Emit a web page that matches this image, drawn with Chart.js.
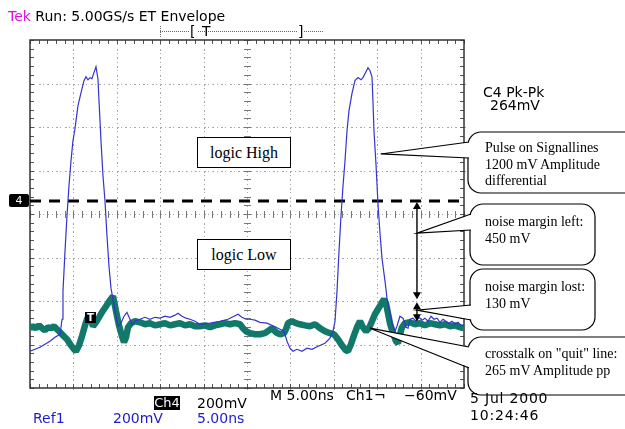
<!DOCTYPE html>
<html><head><meta charset="utf-8">
<script src="https://cdn.jsdelivr.net/npm/chart.js@4"></script>
<style>
html,body{margin:0;padding:0;background:#fff;}
#wrap{position:relative;width:625px;height:429px;overflow:hidden;background:#fff;}
#c{position:absolute;left:0;top:0;}
.t{position:absolute;white-space:nowrap;font-family:"DejaVu Sans",sans-serif;font-size:14px;line-height:14px;color:#000;}
.b{color:#1c1ccc;}
.s{position:absolute;white-space:nowrap;font-family:"Liberation Serif","Times New Roman",serif;font-size:14px;line-height:16.5px;color:#000;}
.box{position:absolute;border:1.5px solid #000;background:#fff;box-sizing:border-box;font-family:"Liberation Serif","Times New Roman",serif;font-size:16px;display:flex;align-items:center;justify-content:center;white-space:nowrap;}
.inv{position:absolute;background:#000;color:#fff;font-family:"DejaVu Sans",sans-serif;font-size:13px;line-height:14px;text-align:center;}
</style></head>
<body><div id="wrap"><canvas id="c" width="625" height="429"></canvas>
<div class="t" style="left:8px;top:9px;"><span style="color:#e010e0">Tek</span> Run: 5.00GS/s ET Envelope</div>
<div class="t" style="left:190px;top:24px;">[</div>
<div class="t" style="left:202px;top:24px;">T</div>
<div class="t" style="left:298px;top:24px;">]</div>
<div class="t" style="left:483px;top:85px;">C4 Pk-Pk</div>
<div class="t" style="left:490px;top:98px;">264mV</div>
<div class="box" style="left:197px;top:137px;width:94px;height:31px;">logic High</div>
<div class="box" style="left:197px;top:239px;width:94px;height:31px;">logic Low</div>
<div class="s" style="left:485px;top:140px;">Pulse on Signallines<br>1200 mV Amplitude<br>differential</div>
<div class="s" style="left:485px;top:214px;">noise margin left:<br>450 mV</div>
<div class="s" style="left:485px;top:279px;">noise margin lost:<br>130 mV</div>
<div class="s" style="left:485px;top:346px;">crosstalk on "quit" line:<br>265 mV Amplitude pp</div>
<div class="inv" style="left:9px;top:194px;width:20px;height:13px;border-radius:2px;font-size:11px;line-height:13px;">4</div>
<div class="inv" style="left:85px;top:312px;width:11px;height:11px;font-size:10px;line-height:11px;font-weight:bold;">T</div>
<div class="t" style="left:270px;top:388px;">M 5.00ns</div>
<div class="t" style="left:346px;top:388px;">Ch1</div>
<div class="t" style="left:374px;top:388px;">¬</div>
<div class="t" style="left:404px;top:388px;">−60mV</div>
<div class="t" style="left:470px;top:391px;letter-spacing:0.8px;">5 Jul 2000</div>
<div class="t" style="left:470px;top:408px;letter-spacing:0.8px;">10:24:46</div>
<div class="inv" style="left:154px;top:396px;width:26px;height:14px;">Ch4</div>
<div class="t" style="left:197px;top:396px;">200mV</div>
<div class="t b" style="left:33px;top:411px;">Ref1</div>
<div class="t b" style="left:113px;top:411px;">200mV</div>
<div class="t b" style="left:197px;top:411px;">5.00ns</div>
</div>
<script>
// time base: 5 ns/div, 10 divisions; vertical: 200 mV/div, 8 divisions
const xTicksNs = [0,5,10,15,20,25,30,35,40,45,50];
const yTicksMv = [-800,-600,-400,-200,0,200,400,600,800];
const thresholdMv = 60;

// Ref1: pulse on signal lines (blue)
const ref1Time = [0,0.58,1.15,1.73,2.3,2.88,3.46,3.69,3.8,4.03,4.26,4.49,4.72,4.95,5.18,5.53,5.88,6.22,6.45,6.68,6.91,7.14,7.37,7.6,7.83,7.95,8.18,8.41,8.64,8.87,9.1,9.33,9.56,9.91,10.14,10.48,10.83,11.17,11.52,11.75,12.1,12.67,13.25,13.82,14.4,14.98,15.55,16.13,16.7,17.05,17.51,17.97,18.43,19.01,19.58,20.74,21.89,22.81,23.5,23.96,24.42,24.88,25.34,25.92,26.5,27.3,28.11,28.8,29.26,29.61,29.95,30.3,30.76,31.33,31.91,32.49,33.18,33.98,34.56,34.91,35.14,35.37,35.6,35.83,36.06,36.29,36.52,36.75,37.09,37.44,37.79,38.13,38.36,38.59,38.94,39.17,39.4,39.51,39.63,39.86,40.09,40.32,40.55,40.9,41.13,41.47,41.7,42.05,42.28,42.62,42.97,43.32,43.55,43.78,44.12,44.47,44.81,45.16,45.5,45.85,46.2,46.54,46.89,47.23,47.58,47.92,48.27,48.61,48.96,49.31,49.65,50];
const ref1Mv = [-631,-622,-613,-599,-585,-567,-553,-484,-355,-173,-9,129,244,336,392,498,558,613,631,617,627,622,650,677,622,521,336,175,60,-101,-240,-341,-392,-470,-516,-502,-470,-452,-484,-512,-493,-484,-475,-484,-475,-479,-470,-475,-465,-456,-470,-479,-484,-493,-507,-502,-493,-484,-470,-461,-475,-484,-484,-488,-498,-502,-516,-530,-539,-585,-617,-631,-622,-631,-617,-622,-608,-594,-571,-539,-493,-355,-171,-9,129,244,382,475,553,613,627,617,627,645,673,659,631,521,382,230,46,-87,-203,-309,-387,-456,-502,-539,-516,-470,-479,-521,-525,-484,-479,-493,-475,-488,-479,-493,-470,-484,-479,-498,-484,-493,-502,-493,-507,-498,-512,-512];

// Ch4: crosstalk on "quiet" line (teal)
const ch4Time = [0,0.35,0.69,1.04,1.38,1.73,2.07,2.42,2.76,3.11,3.46,3.8,4.26,4.72,5.07,5.3,5.65,5.99,6.34,6.57,6.8,7.03,7.26,7.6,7.95,8.29,8.76,9.22,9.56,9.91,10.25,10.6,10.83,11.06,11.29,11.64,12.1,12.67,13.25,13.82,14.4,14.98,15.55,16.13,16.7,17.28,17.86,18.43,19.01,19.58,20.16,20.74,21.31,21.89,22.46,23.04,23.62,24.19,24.54,24.88,25.34,25.92,26.5,27.07,27.53,27.88,28.34,28.8,29.26,29.49,29.72,30.18,30.64,31.1,31.68,32.26,32.83,33.41,33.98,34.56,35.02,35.48,35.94,36.4,36.63,36.98,37.32,37.67,38.02,38.36,38.71,39.05,39.4,39.74,40.09,40.44,40.78,41.01,41.24,41.47,41.82,42.16,42.39,42.62,42.85,43.2,43.78,44.35,44.93,45.5,46.08,46.66,47.23,47.81,48.38,48.96,49.54,50];
const ch4Mv = [-525,-516,-525,-512,-525,-535,-521,-525,-516,-530,-544,-558,-576,-604,-622,-631,-604,-562,-512,-484,-465,-484,-516,-498,-475,-452,-424,-396,-378,-447,-512,-562,-590,-567,-521,-502,-493,-498,-507,-502,-512,-507,-502,-512,-507,-502,-512,-507,-516,-516,-512,-521,-512,-507,-502,-507,-502,-507,-525,-539,-548,-553,-553,-548,-535,-525,-544,-553,-548,-530,-502,-493,-502,-507,-512,-516,-507,-525,-539,-548,-553,-576,-604,-627,-631,-599,-558,-521,-493,-521,-539,-525,-493,-461,-438,-415,-392,-410,-456,-502,-548,-585,-594,-553,-521,-502,-498,-507,-502,-512,-502,-507,-512,-507,-516,-512,-521,-525];

// annotations anchored in data units
const marginX = 44.58;
const arrows = [[55,-392],[-406,-493]];
const calloutApex = [[40.4,276],[44.58,-88],[44.58,-442],[39.17,-525]];

const pts = (t,v)=>t.map((x,i)=>({x, y:v[i]}));

const gridPlugin = {
  id:'scopeGrid',
  beforeDatasetsDraw(chart){
    const {ctx, chartArea:a, scales:{x,y}} = chart;
    ctx.save();
    const dX=(a.right-a.left)/10/5, dY=(a.bottom-a.top)/8/5;
    ctx.fillStyle='#a8a8a8';
    xTicksNs.forEach((v,i)=>{
      if(i===0||i===xTicksNs.length-1) return;
      const px=Math.round(x.getPixelForValue(v));
      for(let k=0;k<=80;k++){const py=Math.round(a.top+k*dY/2); ctx.fillRect(px,py,1,(k%2===0)?2:1);}
    });
    yTicksMv.forEach((v,i)=>{
      if(i===0||i===yTicksMv.length-1) return;
      const py=Math.round(y.getPixelForValue(v));
      for(let k=0;k<=100;k++){const px=Math.round(a.left+k*dX/2); ctx.fillRect(px,py,(k%2===0)?2:1,1);}
    });
    ctx.fillStyle='#777';
    const cx=Math.round(x.getPixelForValue(25)), cy=Math.round(y.getPixelForValue(0));
    for(let k=0;k<=40;k++){const py=Math.round(a.top+k*dY); ctx.fillRect(cx-3,py,7,1);}
    for(let k=0;k<=50;k++){const px=Math.round(a.left+k*dX); ctx.fillRect(px,cy-3,1,7);}
    ctx.fillStyle='#555';
    for(let k=0;k<=50;k++){const px=Math.round(a.left+k*dX); ctx.fillRect(px,a.top,1,4); ctx.fillRect(px,a.bottom-4,1,4);}
    for(let k=0;k<=40;k++){const py=Math.round(a.top+k*dY); ctx.fillRect(a.left,py,4,1); ctx.fillRect(a.right-4,py,4,1);}
    ctx.strokeStyle='#333'; ctx.lineWidth=1.5;
    ctx.strokeRect(a.left,a.top,a.right-a.left,a.bottom-a.top);
    ctx.fillStyle='#666';
    for(let px=160;px<=322;px+=2){ if(px>188&&px<197) continue; if(px>296&&px<304) continue; ctx.fillRect(px,31,1,1);}
    for(let py=26;py<=37;py+=2) ctx.fillRect(160,py,1,1);
    ctx.restore();
  }
};

function rr(ctx,x,y,w,h,r){ctx.beginPath();ctx.moveTo(x+r,y);ctx.arcTo(x+w,y,x+w,y+h,r);ctx.arcTo(x+w,y+h,x,y+h,r);ctx.arcTo(x,y+h,x,y,r);ctx.arcTo(x,y,x+w,y,r);ctx.closePath();}

const boxes = [
  {x:468,y:132,w:175,h:61,r:13,b1:142,b2:158},
  {x:470,y:204,w:125,h:61,r:13,b1:214,b2:230},
  {x:470,y:269,w:125,h:61,r:13,b1:305,b2:320},
  {x:468,y:337,w:175,h:58,r:13,b1:347,b2:368}
];

const annoPlugin = {
  id:'anno',
  afterDraw(chart){
    const {ctx, scales:{x,y}} = chart;
    ctx.save();
    boxes.forEach((b,i)=>{
      ctx.fillStyle='#fff'; ctx.strokeStyle='#000'; ctx.lineWidth=1.2;
      rr(ctx,b.x,b.y,b.w,b.h,b.r); ctx.fill(); ctx.stroke();
      const ax=x.getPixelForValue(calloutApex[i][0]), ay=y.getPixelForValue(calloutApex[i][1]);
      ctx.beginPath(); ctx.moveTo(b.x+3,b.b1); ctx.lineTo(ax,ay); ctx.lineTo(b.x+3,b.b2); ctx.closePath();
      ctx.fill();
      ctx.beginPath(); ctx.moveTo(b.x+1,b.b1); ctx.lineTo(ax,ay); ctx.lineTo(b.x+1,b.b2); ctx.stroke();
    });
    const px=x.getPixelForValue(marginX);
    ctx.strokeStyle='#000'; ctx.fillStyle='#000'; ctx.lineWidth=1.4;
    arrows.forEach(([top,bot])=>{
      const y1=y.getPixelForValue(top), y2=y.getPixelForValue(bot);
      ctx.beginPath(); ctx.moveTo(px,y1+4); ctx.lineTo(px,y2-4); ctx.stroke();
      ctx.beginPath(); ctx.moveTo(px,y1); ctx.lineTo(px-4,y1+7); ctx.lineTo(px+4,y1+7); ctx.closePath(); ctx.fill();
      ctx.beginPath(); ctx.moveTo(px,y2); ctx.lineTo(px-4,y2-7); ctx.lineTo(px+4,y2-7); ctx.closePath(); ctx.fill();
    });
    ctx.restore();
  }
};

new Chart(document.getElementById('c'), {
  type:'scatter',
  data:{datasets:[
    {label:'Ref1', data:pts(ref1Time,ref1Mv), showLine:true, borderColor:'#3434cc', borderWidth:1.2, pointRadius:0, order:0},
    {label:'Ch4', data:pts(ch4Time,ch4Mv), showLine:true, borderColor:'#12786a', borderWidth:6.5, pointRadius:0, order:1, borderJoinStyle:'bevel', borderCapStyle:'butt'},
    {label:'threshold', data:[{x:xTicksNs[0],y:thresholdMv},{x:xTicksNs[xTicksNs.length-1],y:thresholdMv}], showLine:true, borderColor:'#000', borderWidth:3, borderDash:[11,8], pointRadius:0, order:2}
  ]},
  options:{
    responsive:false, animation:false, devicePixelRatio:1, events:[],
    layout:{padding:{left:30,top:40,right:161,bottom:41}},
    scales:{
      x:{type:'linear',min:xTicksNs[0],max:xTicksNs[xTicksNs.length-1],display:false},
      y:{type:'linear',min:yTicksMv[0],max:yTicksMv[yTicksMv.length-1],display:false}
    },
    plugins:{legend:{display:false},tooltip:{enabled:false}}
  },
  plugins:[gridPlugin, annoPlugin]
});
</script>
</body></html>
